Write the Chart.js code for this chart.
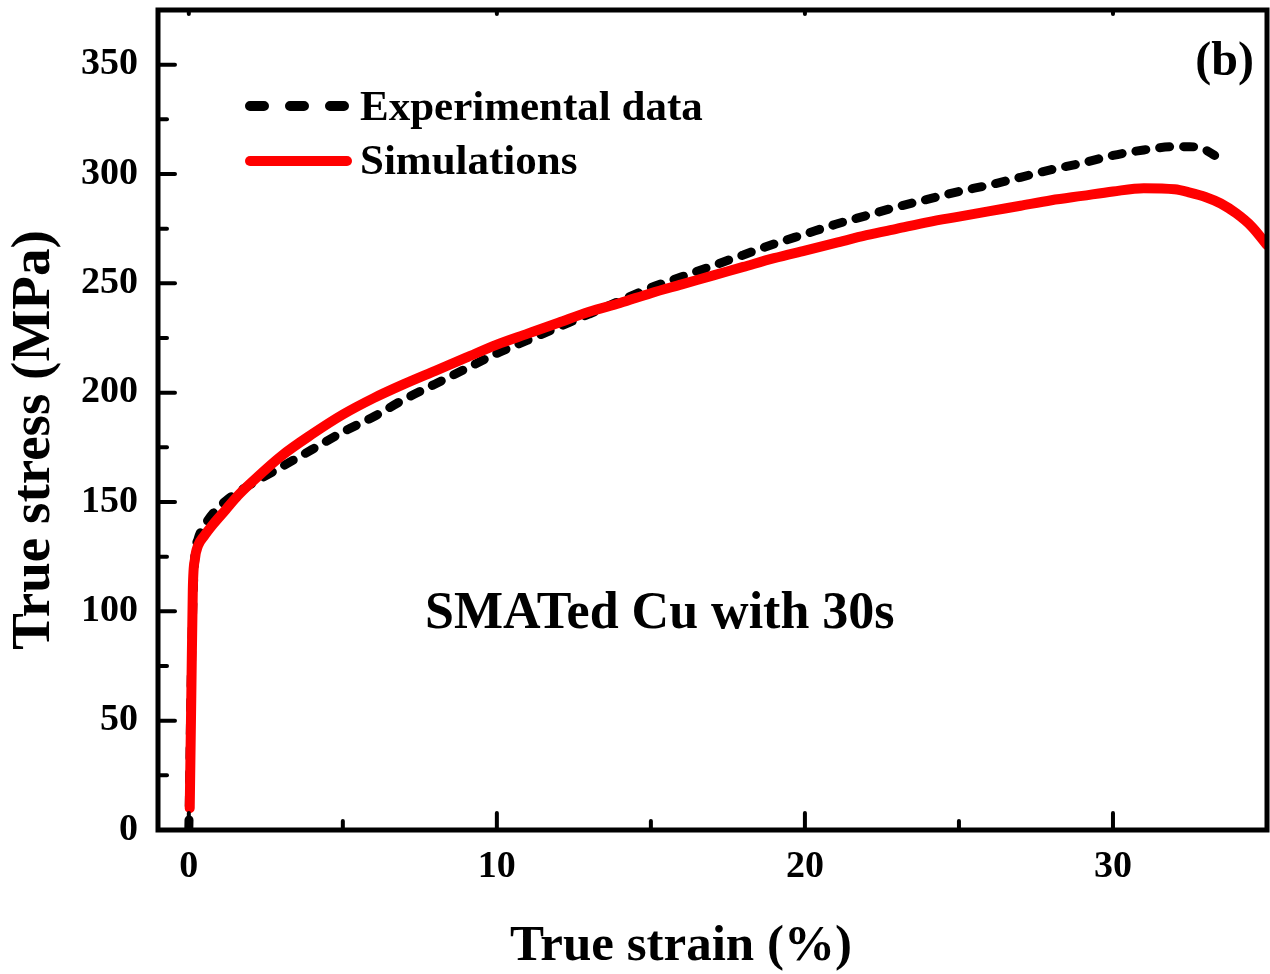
<!DOCTYPE html>
<html>
<head>
<meta charset="utf-8">
<script src="https://cdn.jsdelivr.net/npm/chart.js@4.4.1/dist/chart.umd.min.js"></script>
<style>
  html, body { margin: 0; padding: 0; background: #fff; }
</style>
</head>
<body>
<canvas id="canvas" width="1270" height="974"></canvas>
<script>
const expStrain = [0, 0.02, 0.05, 0.1, 0.15, 0.2, 0.3, 0.5, 0.8, 1.2, 1.6, 2, 3, 4, 5, 6, 7, 8, 9, 10,
  11, 12, 13, 14, 15, 16, 17, 18, 19, 20, 21, 22, 23, 24, 25, 26, 27, 28, 29, 30, 31, 32, 32.5, 33, 33.3];
const expStress = [0, 15, 45, 85, 112, 126, 133, 139, 145, 150.5, 154.5, 158, 166, 174, 182, 189, 197, 204, 211, 218,
  224, 230, 236, 242, 248, 253, 258, 263, 268, 272.5, 277, 281, 285, 288.5, 292, 295, 298.5, 302, 305, 308.5, 311, 312.5, 312.5, 311, 308.5];

const simStrain = [0.03, 0.08, 0.13, 0.2, 0.3, 0.5, 0.8, 1.2, 1.6, 2, 3, 4, 5, 6, 7, 8, 9, 10,
  11, 12, 13, 14, 15, 16, 17, 18, 19, 20, 21, 22, 23, 24, 25, 26, 27, 28, 29, 30, 31, 32, 32.5, 33, 33.5, 34, 34.5, 35];
const simStress = [10, 60, 110, 124, 130, 134.5, 140, 146.5, 153, 158.5, 171, 181, 190, 197.5, 204, 210, 216, 222,
  227, 232, 237, 241, 245.5, 249.5, 253.5, 257.5, 261.5, 265, 268.5, 272, 275, 278, 280.5, 283, 285.5, 288, 290, 292, 293.5, 293, 291.5, 289.5, 286.5, 282, 276, 267.5];

const xTicks = [0, 10, 20, 30];
const xMinor = [5, 15, 25];
const yTicks = [0, 50, 100, 150, 200, 250, 300, 350];
const yMinor = [25, 75, 125, 175, 225, 275, 325];

const serif = '"Liberation Serif", "Times New Roman", serif';

// frame, inward ticks, legend and labels
const framePlugin = {
  id: "framePlugin",
  afterDraw(chart) {
    const { ctx, chartArea: { top, left, bottom, right }, scales: { x, y } } = chart;
    ctx.save();
    ctx.strokeStyle = "#000";
    ctx.lineWidth = 5;
    ctx.strokeRect(left, top, right - left, bottom - top);

    ctx.lineCap = "round";
    ctx.lineWidth = 4;
    const tick = (x1, y1, x2, y2) => {
      ctx.beginPath();
      ctx.moveTo(x1, y1);
      ctx.lineTo(x2, y2);
      ctx.stroke();
    };
    xTicks.forEach(v => {
      const px = x.getPixelForValue(v);
      tick(px, bottom, px, bottom - 17);
      tick(px, top, px, top + 4);
    });
    xMinor.forEach(v => {
      const px = x.getPixelForValue(v);
      tick(px, bottom, px, bottom - 9);
    });
    yTicks.forEach(v => {
      const py = y.getPixelForValue(v);
      tick(left, py, left + 17, py);
    });
    yMinor.forEach(v => {
      const py = y.getPixelForValue(v);
      tick(left, py, left + 9, py);
    });

    // legend
    ctx.lineWidth = 10;
    ctx.strokeStyle = "#000";
    ctx.setLineDash([14, 26]);
    tick(250, 106, 350, 106);
    ctx.setLineDash([]);
    ctx.strokeStyle = "#ff0000";
    tick(250, 161, 347, 161);

    ctx.fillStyle = "#000";
    ctx.textBaseline = "alphabetic";
    ctx.font = "bold 43px " + serif;
    ctx.textAlign = "left";
    ctx.fillText("Experimental data", 360, 120);
    ctx.fillText("Simulations", 360, 174);

    ctx.font = "bold 52px " + serif;
    ctx.fillText("SMATed Cu with 30s", 425, 628);
    ctx.textAlign = "right";
    ctx.font = "bold 48px " + serif;
    ctx.fillText("(b)", 1254, 75);

    // axis titles
    ctx.textAlign = "center";
    ctx.font = "bold 51px " + serif;
    ctx.fillText("True strain (%)", 681, 960);

    ctx.translate(49, 440);
    ctx.rotate(-Math.PI / 2);
    ctx.font = "bold 55px " + serif;
    ctx.fillText("True stress (MPa)", 0, 0);
    ctx.restore();
  },
};

new Chart(document.getElementById("canvas").getContext("2d"), {
  type: "line",
  data: {
    datasets: [
      {
        label: "Experimental data",
        data: expStrain.map((v, i) => ({ x: v, y: expStress[i] })),
        borderColor: "#000",
        borderWidth: 9,
        borderDash: [10, 14],
        borderCapStyle: "round",
        pointRadius: 0,
        cubicInterpolationMode: "monotone",
        order: 1,
      },
      {
        label: "Simulations",
        data: simStrain.map((v, i) => ({ x: v, y: simStress[i] })),
        borderColor: "#ff0000",
        borderWidth: 10,
        borderCapStyle: "round",
        pointRadius: 0,
        cubicInterpolationMode: "monotone",
        order: 0,
      },
    ],
  },
  options: {
    responsive: false,
    animation: false,
    layout: { padding: { top: 10, right: 3, left: 0, bottom: 0 } },
    plugins: {
      legend: { display: false },
      tooltip: { enabled: false },
    },
    scales: {
      x: {
        type: "linear",
        min: -1,
        max: 35,
        afterBuildTicks: s => { s.ticks = xTicks.map(v => ({ value: v })); },
        afterFit: s => { s.height = 144; s.paddingLeft = 0; s.paddingRight = 0; },
        grid: { display: false, drawTicks: false },
        border: { display: false },
        ticks: {
          color: "#000",
          padding: 14,
          maxRotation: 0,
          font: { family: serif, size: 38, weight: "bold" },
        },
      },
      y: {
        min: 0,
        max: 375,
        afterBuildTicks: s => { s.ticks = yTicks.map(v => ({ value: v })); },
        afterFit: s => { s.width = 158; s.paddingTop = 0; s.paddingBottom = 0; },
        grid: { display: false, drawTicks: false },
        border: { display: false },
        ticks: {
          color: "#000",
          padding: 20,
          font: { family: serif, size: 38, weight: "bold" },
        },
      },
    },
  },
  plugins: [framePlugin],
});
</script>
</body>
</html>
